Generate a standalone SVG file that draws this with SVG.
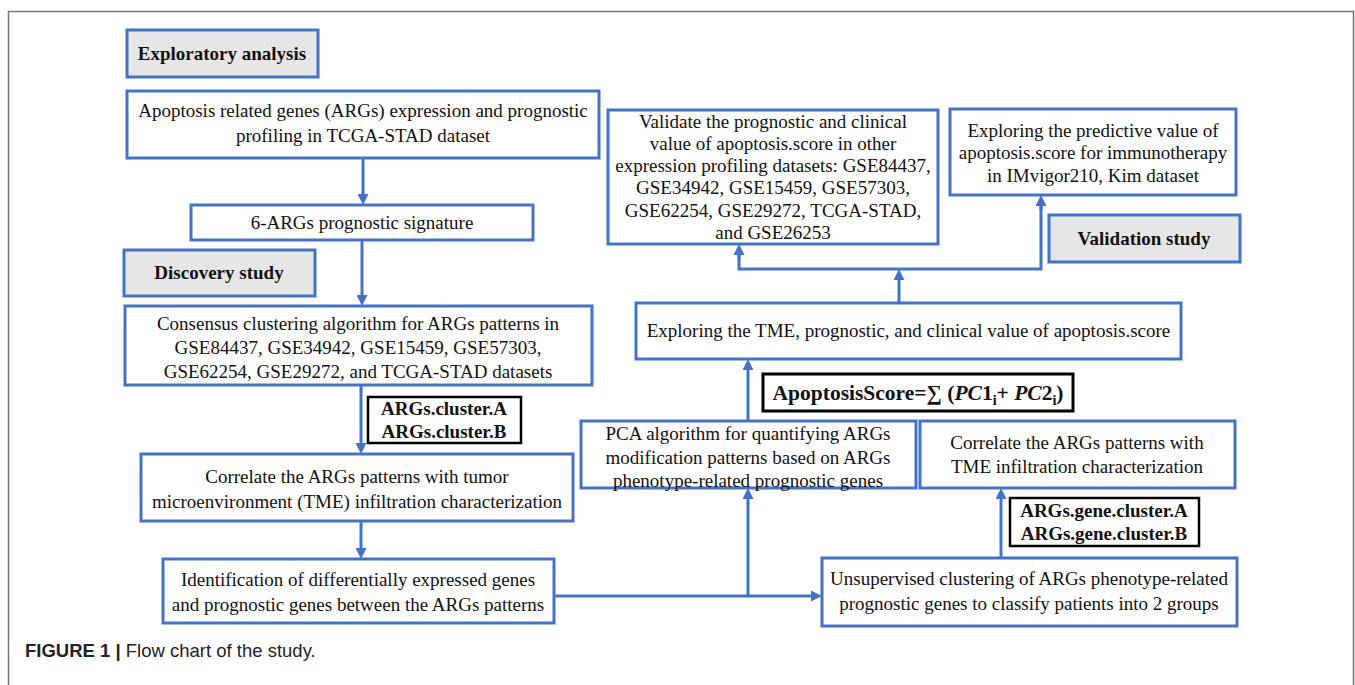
<svg xmlns="http://www.w3.org/2000/svg" width="1355" height="685" viewBox="0 0 1355 685">
<style>
.box{fill:#ffffff;stroke:#4472c4;stroke-width:3}
.gbox{fill:#e7e6e6;stroke:#4472c4;stroke-width:3}
.kbox{fill:#ffffff;stroke:#000000;stroke-width:2.5}
.t{font-family:"Liberation Serif","Times New Roman",serif;font-size:19px;fill:#111;text-anchor:middle}
.b{font-family:"Liberation Serif","Times New Roman",serif;font-size:19px;font-weight:bold;fill:#111;text-anchor:middle}
.f{font-family:"Liberation Serif","Times New Roman",serif;font-size:21.5px;font-weight:bold;fill:#111;text-anchor:middle}
.c{fill:none;stroke:#4472c4;stroke-width:3}
.cap{font-family:"Liberation Sans",Arial,sans-serif;font-size:18.5px;fill:#222}
</style>
<defs>
<marker id="ah" markerUnits="userSpaceOnUse" markerWidth="11" markerHeight="11" refX="7" refY="5.5" orient="auto">
<path d="M0,0 L11,5.5 L0,11 z" fill="#4472c4"/>
</marker>
</defs>
<rect width="1355" height="685" fill="#ffffff"/>
<path d="M8.5,685 V11.5 H1353.5 V685" fill="none" stroke="#777" stroke-width="1.5"/>

<g id="connectors">
<line class="c" x1="363" y1="158" x2="363" y2="201" marker-end="url(#ah)"/>
<line class="c" x1="362" y1="240" x2="362" y2="302" marker-end="url(#ah)"/>
<line class="c" x1="361" y1="385" x2="361" y2="450" marker-end="url(#ah)"/>
<line class="c" x1="361" y1="521" x2="361" y2="555" marker-end="url(#ah)"/>
<line class="c" x1="554" y1="596" x2="818" y2="596" marker-end="url(#ah)"/>
<line class="c" x1="748" y1="596" x2="748" y2="492" marker-end="url(#ah)"/>
<line class="c" x1="748" y1="421" x2="748" y2="363" marker-end="url(#ah)"/>
<line class="c" x1="899" y1="303" x2="899" y2="273" marker-end="url(#ah)"/>
<polyline class="c" points="739,248 739,269 1041,269 1041,199"/>
<line class="c" x1="739" y1="260" x2="739" y2="248" marker-end="url(#ah)"/>
<line class="c" x1="1041" y1="210" x2="1041" y2="199" marker-end="url(#ah)"/>
<line class="c" x1="1001" y1="558" x2="1001" y2="492" marker-end="url(#ah)"/>
</g>

<g id="exploratory">
<rect class="gbox" x="127" y="30" width="191" height="47"/>
<text class="b" x="222" y="60">Exploratory analysis</text>
</g>
<g id="args_expression">
<rect class="box" x="127" y="91" width="472" height="67"/>
<text class="t" x="363" y="117">Apoptosis related genes (ARGs) expression and prognostic</text>
<text class="t" x="363" y="142">profiling in TCGA-STAD dataset</text>
</g>
<g id="signature">
<rect class="box" x="191" y="205" width="342" height="35"/>
<text class="t" x="362" y="229">6-ARGs prognostic signature</text>
</g>
<g id="discovery">
<rect class="gbox" x="124" y="250" width="191" height="46"/>
<text class="b" x="219" y="279">Discovery study</text>
</g>
<g id="consensus">
<rect class="box" x="125" y="306" width="467" height="79"/>
<text class="t" x="358" y="330">Consensus clustering algorithm for ARGs patterns in</text>
<text class="t" x="358" y="354">GSE84437, GSE34942, GSE15459, GSE57303,</text>
<text class="t" x="358" y="378">GSE62254, GSE29272, and TCGA-STAD datasets</text>
</g>
<g id="cluster_label">
<rect class="kbox" x="368" y="397" width="153" height="46"/>
<text class="b" x="444" y="415">ARGs.cluster.A</text>
<text class="b" x="444" y="438">ARGs.cluster.B</text>
</g>
<g id="correlate">
<rect class="box" x="141" y="454" width="432" height="67"/>
<text class="t" x="357" y="483">Correlate the ARGs patterns with tumor</text>
<text class="t" x="357" y="508">microenvironment (TME) infiltration characterization</text>
</g>
<g id="identification">
<rect class="box" x="163" y="559" width="391" height="64"/>
<text class="t" x="358" y="586">Identification of differentially expressed genes</text>
<text class="t" x="358" y="611">and prognostic genes between the ARGs patterns</text>
</g>
<g id="pca">
<rect class="box" x="581" y="421" width="335" height="67"/>
<text class="t" x="748" y="440">PCA algorithm for quantifying ARGs</text>
<text class="t" x="748" y="464">modification patterns based on ARGs</text>
<text class="t" x="748" y="487">phenotype-related prognostic genes</text>
</g>
<g id="correlate_tme">
<rect class="box" x="920" y="421" width="315" height="67"/>
<text class="t" x="1077" y="449">Correlate the ARGs patterns with</text>
<text class="t" x="1077" y="473">TME infiltration characterization</text>
</g>
<g id="score_formula">
<rect class="kbox" x="763" y="374" width="310" height="37" style="stroke-width:3"/>
<text class="f" x="918" y="400">ApoptosisScore=∑ (<tspan font-style="italic">PC</tspan>1<tspan style="font-size:14px" dy="5">i</tspan><tspan dy="-5">+ </tspan><tspan font-style="italic">PC</tspan>2<tspan style="font-size:14px" dy="5">i</tspan><tspan dy="-5">)</tspan></text>
</g>
<g id="gene_cluster_label">
<rect class="kbox" x="1010" y="498" width="189" height="48"/>
<text class="b" x="1104" y="517">ARGs.gene.cluster.A</text>
<text class="b" x="1104" y="540">ARGs.gene.cluster.B</text>
</g>
<g id="unsupervised">
<rect class="box" x="822" y="558" width="415" height="68"/>
<text class="t" x="1029" y="585">Unsupervised clustering of ARGs phenotype-related</text>
<text class="t" x="1029" y="610">prognostic genes to classify patients into 2 groups</text>
</g>
<g id="tme_score">
<rect class="box" x="636" y="303" width="545" height="56"/>
<text class="t" x="908.5" y="337">Exploring the TME, prognostic, and clinical value of apoptosis.score</text>
</g>
<g id="validate">
<rect class="box" x="608" y="110" width="330" height="134"/>
<text class="t" x="773" y="128">Validate the prognostic and clinical</text>
<text class="t" x="773" y="150">value of apoptosis.score in other</text>
<text class="t" x="773" y="172">expression profiling datasets: GSE84437,</text>
<text class="t" x="773" y="194">GSE34942, GSE15459, GSE57303,</text>
<text class="t" x="773" y="217">GSE62254, GSE29272, TCGA-STAD,</text>
<text class="t" x="773" y="239">and GSE26253</text>
</g>
<g id="predictive">
<rect class="box" x="950" y="109" width="286" height="86"/>
<text class="t" x="1093" y="137">Exploring the predictive value of</text>
<text class="t" x="1093" y="159">apoptosis.score for immunotherapy</text>
<text class="t" x="1093" y="182">in IMvigor210, Kim dataset</text>
</g>
<g id="validation_study">
<rect class="gbox" x="1049" y="215" width="191" height="47"/>
<text class="b" x="1144" y="245">Validation study</text>
</g>
<g id="caption">
<text class="cap" x="25" y="657"><tspan font-weight="bold">FIGURE 1 |</tspan> Flow chart of the study.</text>
</g>
</svg>
